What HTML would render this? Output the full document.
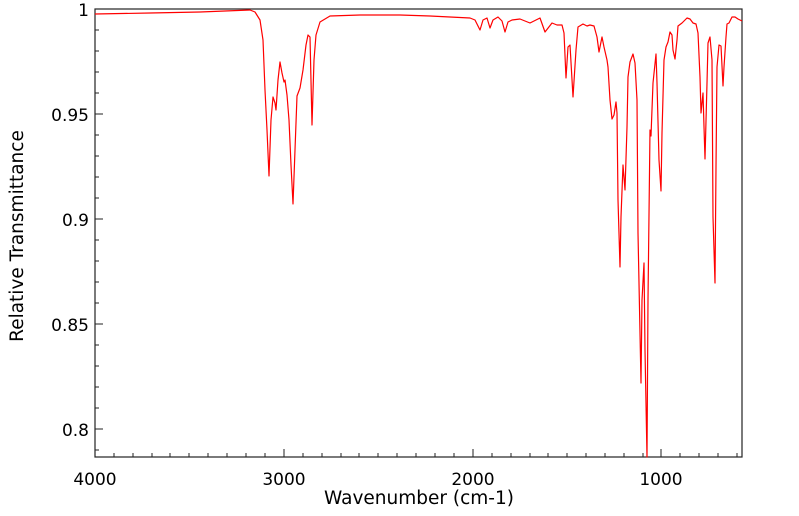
<!DOCTYPE html>
<html><head><style>body{margin:0;background:#fff}svg{display:block}text{font-family:"DejaVu Sans",sans-serif;font-size:17px;fill:#000}.t{font-size:18.5px}</style></head>
<body>
<svg width="799" height="516" viewBox="0 0 799 516" xmlns="http://www.w3.org/2000/svg">
<rect x="95" y="9" width="647" height="448" fill="none" stroke="#222" stroke-width="1.2"/>
<g stroke="#222" stroke-width="1">
<path d="M95 9h8M95 30h4M95 51h4M95 72h4M95 93h4M95 114h8M95 135h4M95 156h4M95 177h4M95 198h4M95 219h8M95 240h4M95 261h4M95 282h4M95 303h4M95 324h8M95 345h4M95 366h4M95 387h4M95 408h4M95 429h8M95 450h4"/>
<path d="M95 457v-8M114 457v-4M133 457v-4M152 457v-4M170 457v-4M189 457v-4M208 457v-4M227 457v-4M246 457v-4M265 457v-4M284 457v-8M303 457v-4M322 457v-4M341 457v-4M359 457v-4M378 457v-4M397 457v-4M416 457v-4M435 457v-4M454 457v-4M473 457v-8M492 457v-4M511 457v-4M530 457v-4M548 457v-4M567 457v-4M586 457v-4M605 457v-4M624 457v-4M643 457v-4M661 457v-8M680 457v-4M699 457v-4M718 457v-4M737 457v-4"/>
</g>
<g text-anchor="end">
<text x="89" y="16">1</text><text x="89" y="121">0.95</text><text x="89" y="226">0.9</text><text x="89" y="331">0.85</text><text x="89" y="436">0.8</text>
</g>
<g text-anchor="middle">
<text x="95" y="485">4000</text><text x="284" y="485">3000</text><text x="473" y="485">2000</text><text x="661" y="485">1000</text>
<text class="t" x="419" y="504">Wavenumber (cm-1)</text>
<text class="t" transform="translate(23,236) rotate(-90)">Relative Transmittance</text>
</g>
<polyline fill="none" stroke="#f00" stroke-width="1.2" stroke-linejoin="round" points="95,14 150,13 200,12 250,10 255,12 260,20 263,40 265,90 267,130 269,176 271,120 273,97 275,103 276,110 278,80 280,62 282,73 284,82 285,80 287,95 289,120 291,165 293,204 295,150 297,96 300,88 303,70 306,45 308,35 310,37 312,125 314,60 316,35 320,22 330,16 360,15 400,15 430,16 450,17 470,18 475,20 480,30 483,20 487,18 490,28 493,20 498,17 502,21 505,32 508,22 512,20 520,19 530,23 540,18 545,32 552,23 557,25 562,25 564,33 566,78 568,47 570,45 573,97 576,50 578,27 583,24 587,26 590,25 594,26 597,37 599,52 602,37 604,47 607,60 608,67 610,100 612,119 614,115 616,102 617,113 618,200 620,267 621,217 623,165 625,190 627,127 628,77 630,62 633,54 635,63 637,100 638,233 641,383 642,300 644,263 645,350 647,457 648,300 650,130 651,136 653,83 656,54 657,83 659,160 661,191 662,133 664,60 666,47 668,42 670,32 672,35 673,50 675,59 677,40 678,26 682,23 687,18 690,19 693,23 696,24 698,33 700,77 701,113 703,93 704,127 705,159 707,83 708,43 710,37 712,60 713,217 715,283 716,167 717,67 719,45 721,46 723,86 724,67 726,37 727,24 729,23 732,17 735,17 738,19 742,21"/>
</svg>
</body></html>
